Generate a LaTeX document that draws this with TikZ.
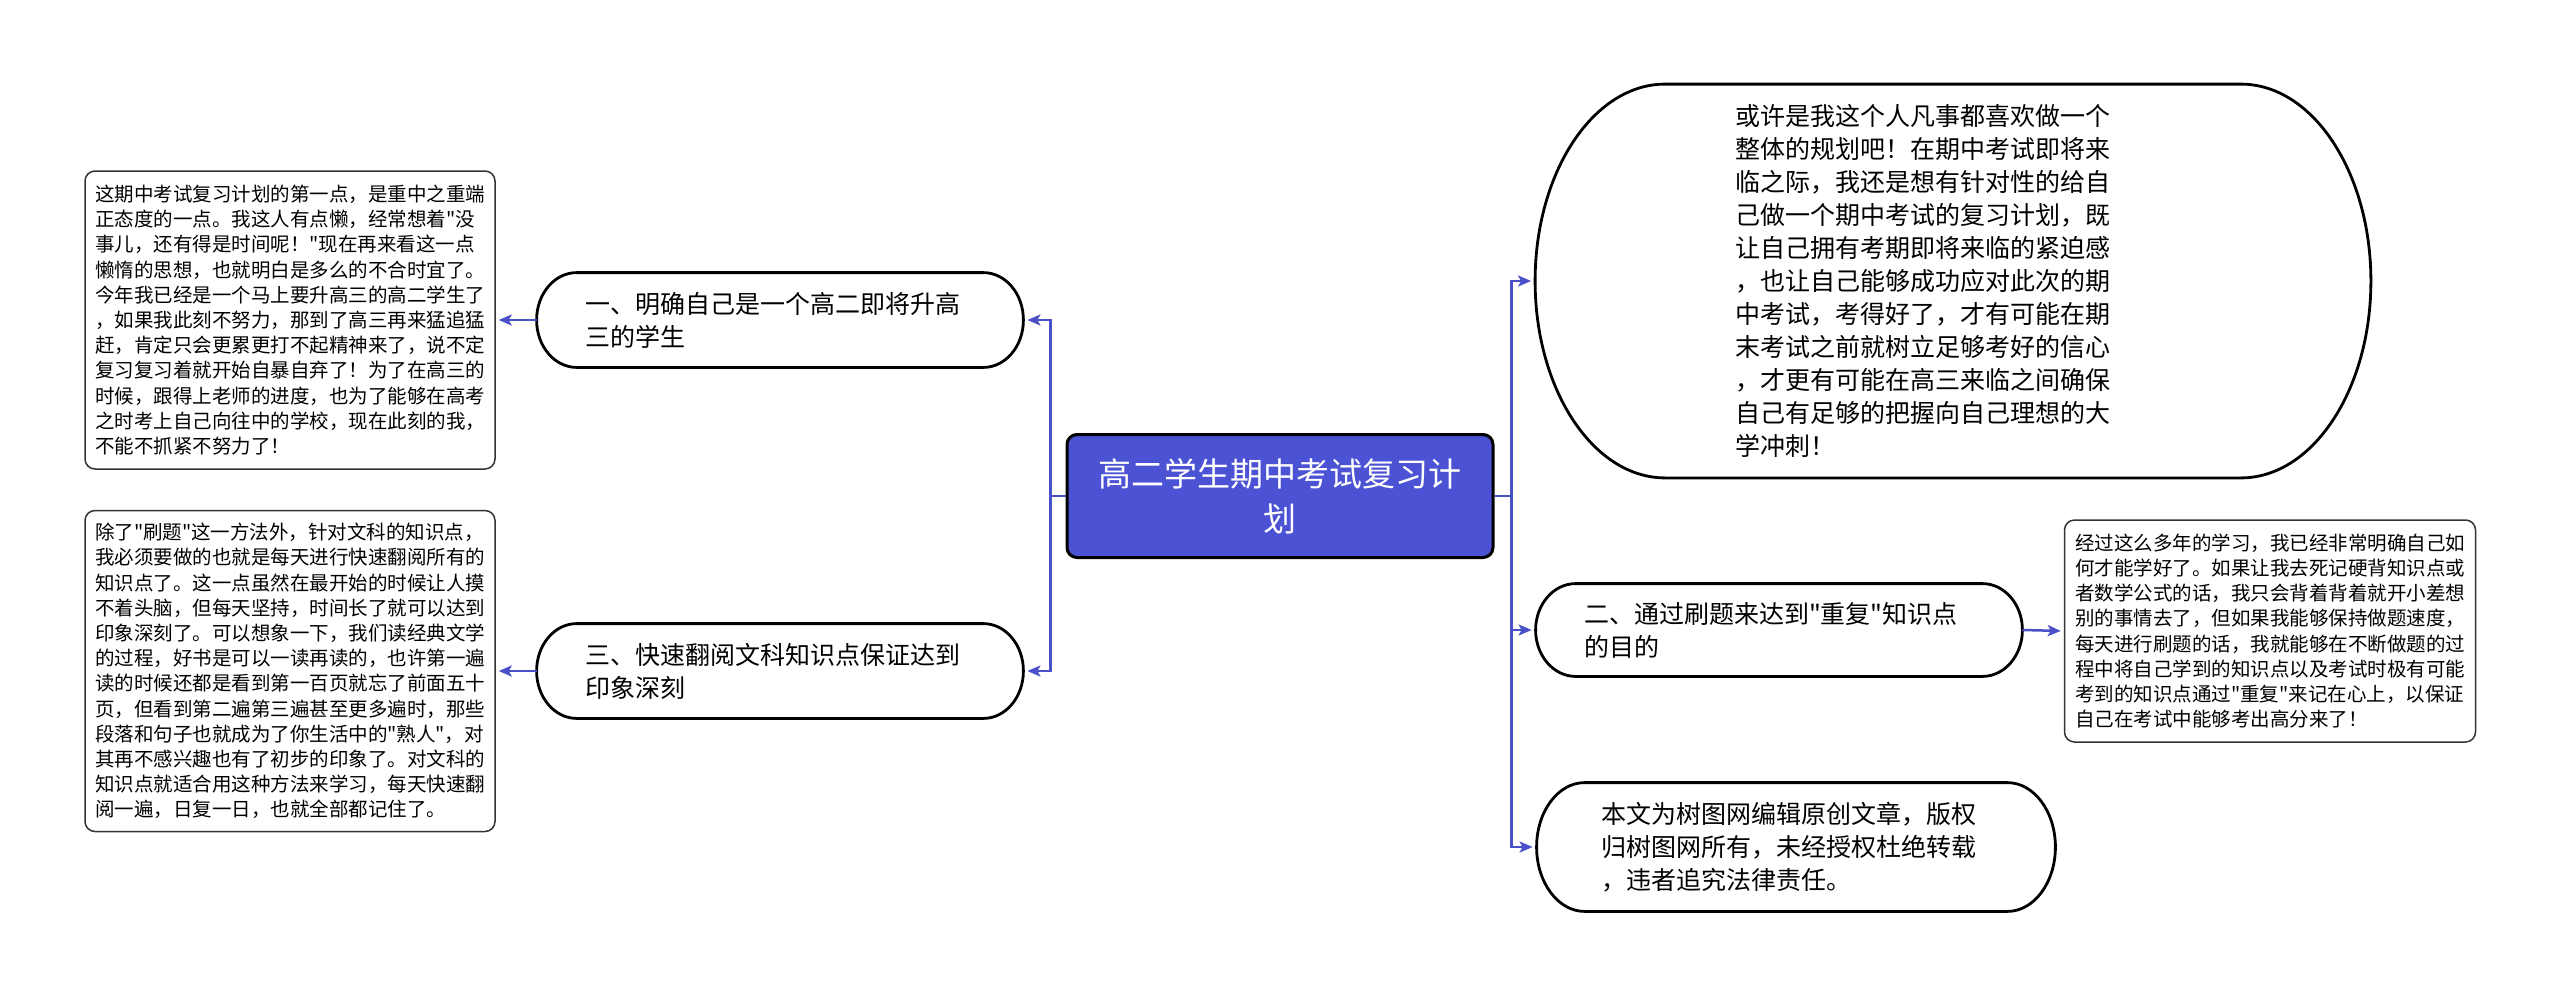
\documentclass[tikz,border=0pt]{standalone}
\usepackage{fontspec}
\setmainfont{Noto Sans CJK SC}[Ligatures=TeXOff]
\usetikzlibrary{arrows.meta,calc}
\definecolor{hub}{HTML}{4B52D4}
\definecolor{link}{HTML}{4A50C8}
\tikzset{
 hubnode/.style={draw=black,line width=1.5pt,fill=hub,rounded corners=5pt,text=white,align=center,text width=185pt,minimum width=213pt,minimum height=61.5pt,inner sep=0pt,font=\fontsize{16.5pt}{22.5pt}\selectfont},
 topic/.style={align=left,text width=195pt,inner sep=0pt,font=\fontsize{12.5pt}{16.5pt}\selectfont},
 leaf/.style={draw=black!80,line width=0.75pt,rounded corners=5pt,align=left,text width=195pt,inner sep=0pt,font=\fontsize{9.75pt}{12.6pt}\selectfont},
 conn/.style={draw=link,line width=1.25pt,-{Stealth[length=6.5pt,width=5.5pt,inset=1.5pt]},shorten >=2pt},
 capline/.style={draw=black,line width=1.4pt}
}
\newcommand\capsule[2]{%
 \draw[capline] let \p1=(#1.north west), \p2=(#1.south east), \n1={(\y1-\y2)/2} in
 (\x1+#2,\y1) -- (\x2-#2,\y1)
 arc[start angle=90,end angle=-90,x radius=#2,y radius=\n1*1pt] -- (\x1+#2,\y2)
 arc[start angle=270,end angle=90,x radius=#2,y radius=\n1*1pt] -- cycle;}
\begin{document}
\begin{tikzpicture}[x=0.5pt,y=0.5pt]
\useasboundingbox (0,0) rectangle (2560,-992);
\fill[white] (0,0) rectangle (2560,-992);

\node[hubnode] (C) at (1280,-496) {高二学生期中考试复习计\\划};

\node[topic,minimum width=243pt,minimum height=47pt] (L1) at (780,-320) {一、明确自己是一个高二即将升高\\三的学生};
\node[topic,minimum width=243pt,minimum height=47pt] (L2) at (780,-671) {三、快速翻阅文科知识点保证达到\\印象深刻};

\node[leaf,minimum width=205pt,minimum height=149pt] (LL1) at (290,-320) {这期中考试复习计划的第一点，是重中之重端\\正态度的一点。我这人有点懒，经常想着"没\\事儿，还有得是时间呢！"现在再来看这一点\\懒惰的思想，也就明白是多么的不合时宜了。\\今年我已经是一个马上要升高三的高二学生了\\，如果我此刻不努力，那到了高三再来猛追猛\\赶，肯定只会更累更打不起精神来了，说不定\\复习复习着就开始自暴自弃了！为了在高三的\\时候，跟得上老师的进度，也为了能够在高考\\之时考上自己向往中的学校，现在此刻的我，\\不能不抓紧不努力了！};
\node[leaf,minimum width=205pt,minimum height=160.5pt] (LL2) at (290,-671) {除了"刷题"这一方法外，针对文科的知识点，\\我必须要做的也就是每天进行快速翻阅所有的\\知识点了。这一点虽然在最开始的时候让人摸\\不着头脑，但每天坚持，时间长了就可以达到\\印象深刻了。可以想象一下，我们读经典文学\\的过程，好书是可以一读再读的，也许第一遍\\读的时候还都是看到第一百页就忘了前面五十\\页，但看到第二遍第三遍甚至更多遍时，那些\\段落和句子也就成为了你生活中的"熟人"，对\\其再不感兴趣也有了初步的印象了。对文科的\\知识点就适合用这种方法来学习，每天快速翻\\阅一遍，日复一日，也就全部都记住了。};

\node[topic,text width=218pt,minimum width=417.5pt,minimum height=196.5pt] (R1) at (1953,-281) {或许是我这个人凡事都喜欢做一个\\整体的规划吧！在期中考试即将来\\临之际，我还是想有针对性的给自\\己做一个期中考试的复习计划，既\\让自己拥有考期即将来临的紧迫感\\，也让自己能够成功应对此次的期\\中考试，考得好了，才有可能在期\\末考试之前就树立足够考好的信心\\，才更有可能在高三来临之间确保\\自己有足够的把握向自己理想的大\\学冲刺！};
\node[topic,minimum width=243pt,minimum height=46pt] (R2) at (1779,-630) {二、通过刷题来达到"重复"知识点\\的目的};
\node[topic,minimum width=259pt,minimum height=64pt] (R3) at (1796,-847) {本文为树图网编辑原创文章，版权\\归树图网所有，未经授权杜绝转载\\，违者追究法律责任。};

\node[leaf,minimum width=205.5pt,minimum height=111pt] (RL) at (2270,-631) {经过这么多年的学习，我已经非常明确自己如\\何才能学好了。如果让我去死记硬背知识点或\\者数学公式的话，我只会背着背着就开小差想\\别的事情去了，但如果我能够保持做题速度，\\每天进行刷题的话，我就能够在不断做题的过\\程中将自己学到的知识点以及考试时极有可能\\考到的知识点通过"重复"来记在心上，以保证\\自己在考试中能够考出高分来了！};

\capsule{L1}{20pt}
\capsule{L2}{20pt}
\capsule{R1}{65pt}
\capsule{R2}{20pt}
\capsule{R3}{24pt}

\draw[conn] (C.west) -- ++(-15,0) |- (L1.east);
\draw[conn] (C.west) -- ++(-15,0) |- (L2.east);
\draw[conn] (C.east) -- ++(17,0) |- (R1.west);
\draw[conn] (C.east) -- ++(17,0) |- (R2.west);
\draw[conn] (C.east) -- ++(17,0) |- (R3.west);
\draw[conn,shorten >=1.5pt] (L1.west) -- (LL1.east);
\draw[conn,shorten >=1.5pt] (L2.west) -- (LL2.east);
\draw[conn,shorten >=1.5pt] (R2.east) -- (RL.west);
\end{tikzpicture}
\end{document}
